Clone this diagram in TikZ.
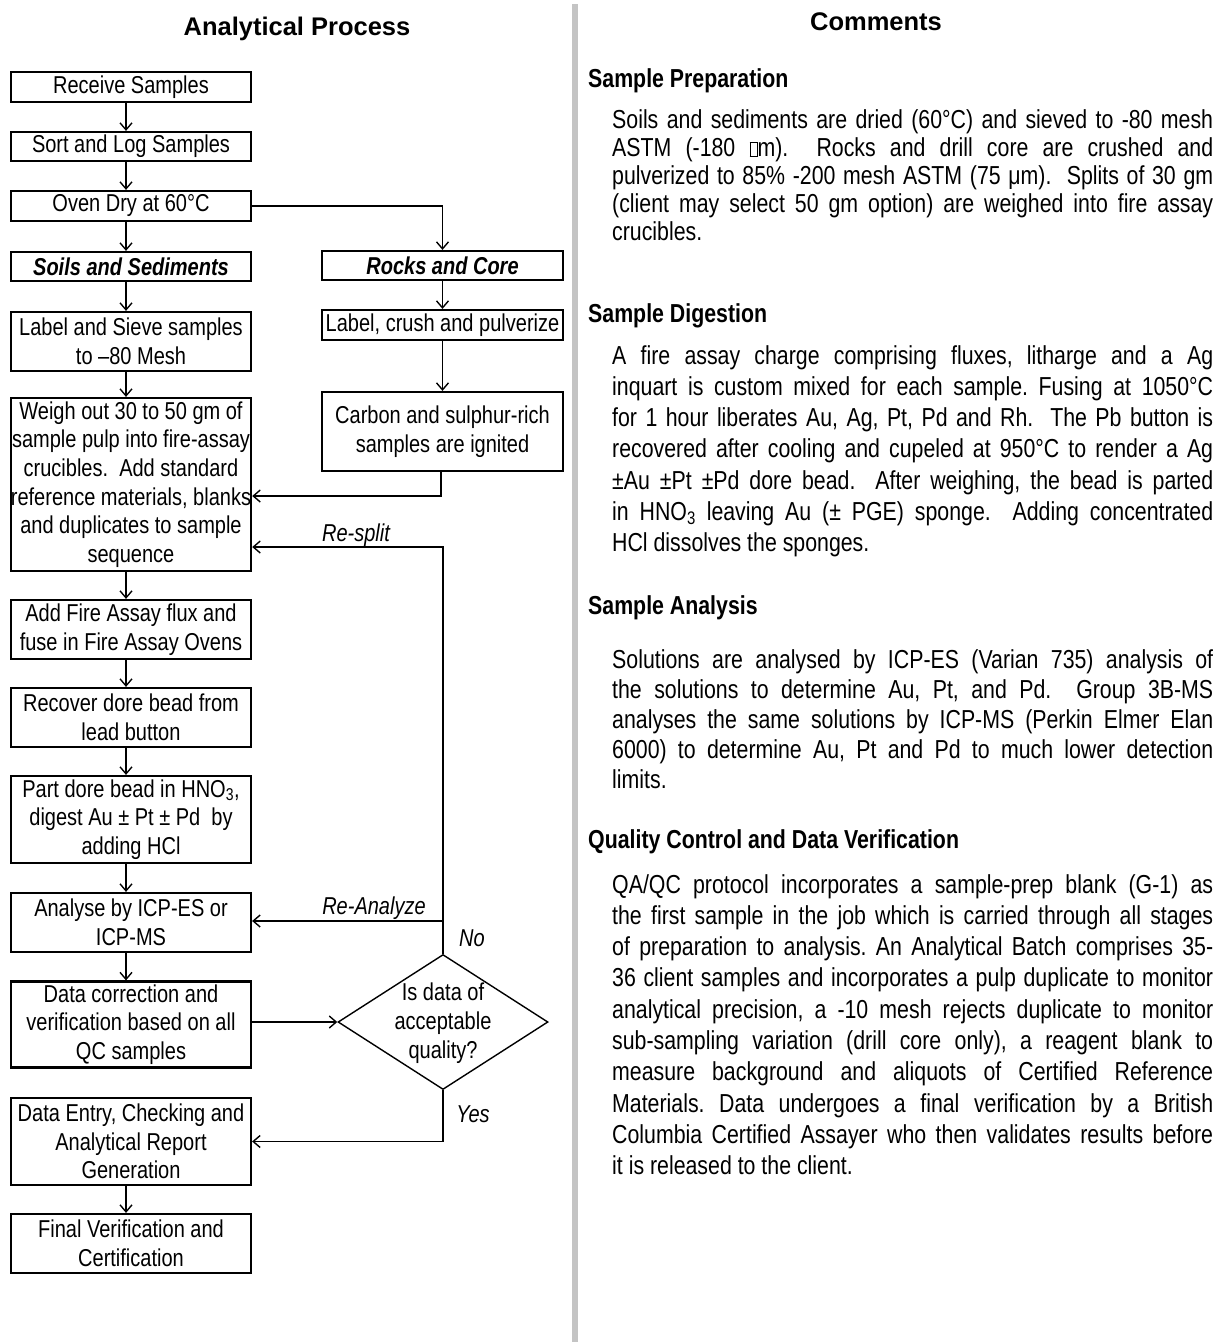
\documentclass[tikz,border=0pt]{standalone}
\usepackage{fontspec}
\setmainfont{Liberation Sans}
\newfontfamily\narrow[FakeStretch=0.82]{Liberation Sans}
\usetikzlibrary{arrows.meta,shapes.geometric,calc}
\definecolor{divgray}{RGB}{196,196,196}
\frenchspacing
\newcommand\fsz{\narrow\fontsize{24.4}{28.7}\selectfont}
\newcommand\psz[1]{\narrow\fontsize{26}{#1}\selectfont\frenchspacing}
\newcommand\jl[1]{\makebox[601pt][s]{#1}\\}
\newcommand\nogl{{\fboxsep=0pt\fboxrule=0.5pt\fbox{\rule{0pt}{14pt}\hspace{7pt}}}}
\begin{document}
\begin{tikzpicture}[x=1pt,y=-1pt,
  box/.style={draw, line width=2.2pt, rectangle, inner sep=0pt, align=center, font=\fsz},
  lbox/.style={box, minimum width=240pt},
  rbox/.style={box, minimum width=241pt},
  arr/.style={line width=1.4pt, -{Straight Barb[length=7pt,width=12pt]}},
  lab/.style={font=\fsz\itshape, inner sep=0pt},
  head/.style={font=\narrow\fontsize{26}{30}\selectfont\bfseries, inner sep=0pt, anchor=west},
  ttl/.style={font=\fontsize{25.5}{30}\selectfont\bfseries, inner sep=0pt},
  para/.style={inner sep=0pt, align=left, anchor=north west}]
\useasboundingbox (0,0) rectangle (1222,1342);
\fill[white] (0,0) rectangle (1222,1342);
\fill[divgray] (572,4) rectangle (578,1342);

% titles
\node[ttl] (t1) at (297,29) {Analytical Process};
\node[ttl] (t2) at (876,22) {Comments};

% left column
\node[lbox, minimum height=30pt] (recv) at (131,87) {Receive Samples};
\node[lbox, minimum height=29pt] (sort) at (131,146.5) {Sort and Log Samples};
\node[lbox, minimum height=30pt] (oven) at (131,206) {Oven Dry at 60°C};
\node[lbox, minimum height=29pt, font=\fsz\bfseries\itshape] (soils) at (131,266.5) {Soils and Sediments};
\node[lbox, minimum height=59pt] (label) at (131,341.5) {Label and Sieve samples\\to –80 Mesh};
\node[lbox, minimum height=173pt] (weigh) at (131,484.5) {Weigh out 30 to 50 gm of\\sample pulp into fire-assay\\crucibles.~~Add standard\\reference materials, blanks\\and duplicates to sample\\sequence};
\node[lbox, minimum height=59pt] (fire) at (131,629.5) {Add Fire Assay flux and\\fuse in Fire Assay Ovens};
\node[lbox, minimum height=59pt] (recover) at (131,717.5) {Recover dore bead from\\lead button};
\node[lbox, minimum height=87pt] (part) at (131,819.5) {Part dore bead in HNO\textsubscript{3},\\digest Au ± Pt ± Pd~ by\\adding HCl};
\node[lbox, minimum height=59pt] (analyse) at (131,922.5) {Analyse by ICP-ES or\\ICP-MS};
\node[lbox, minimum height=86pt] (corr) at (131,1024.5) {Data correction and\\verification based on all\\QC samples};
\node[lbox, minimum height=87pt] (entry) at (131,1141.5) {Data Entry, Checking and\\Analytical Report\\Generation};
\node[lbox, minimum height=59pt] (final) at (131,1243.5) {Final Verification and\\Certification};

% right column
\node[rbox, minimum height=29pt, font=\fsz\bfseries\itshape] (rocks) at (442.5,265.5) {Rocks and Core};
\node[rbox, minimum height=30pt] (crush) at (442.5,325) {Label, crush and pulverize};
\node[rbox, minimum height=79pt] (carbon) at (442.5,431.5) {Carbon and sulphur-rich\\samples are ignited};

% decision
\node[draw, diamond, line width=1.4pt, minimum width=210pt, minimum height=135pt, inner sep=0pt] (dia) at (443,1022) {};
\node[font=\fsz, align=center, inner sep=0pt] (diatext) at (443,1023) {Is data of\\acceptable\\quality?};

% coordinates for bends
\coordinate (cbend) at (441,496);
\coordinate (rsbend) at (443,547);
\coordinate (rabend) at (443,921);

% main flow arrows
\foreach \a/\b in {recv/sort, sort/oven, oven/soils, soils/label, label/weigh, weigh/fire, fire/recover, recover/part, part/analyse, analyse/corr, entry/final}
  \draw[arr] ([xshift=-5pt]\a.south) -- ([xshift=-5pt]\b.north);

\draw[arr] (oven.east) -| (rocks.north);
\draw[arr] (rocks.south) -- (crush.north);
\draw[arr] (crush.south) -- (carbon.north);
\draw[arr] ([xshift=-1.5pt]carbon.south) -- (cbend) -- (cbend -| weigh.east);
\draw[arr] (dia.north) -- (rsbend) -- (rsbend -| weigh.east);
\draw[arr] (rabend) -- (rabend -| analyse.east);
\draw[arr] (dia.west -| corr.east) -- (dia.west);
\draw[arr] (dia.south) |- (entry.east);

% labels
\node[lab] (lrs) at (356,535) {Re-split};
\node[lab] (lra) at (374,908) {Re-Analyze};
\node[lab] (lno) at (472,938) {No};
\node[lab] (lyes) at (473,1114) {Yes};

% comments column
\node[head] (h1) at (588,81) {Sample Preparation};
\node[para, font=\psz{28}] (p1) at (612,109) {%
\jl{Soils and sediments are dried (60°C) and sieved to -80 mesh}%
\jl{ASTM (-180 \nogl m).~ Rocks and drill core are crushed and}%
\jl{pulverized to 85\% -200 mesh ASTM (75 μm).~ Splits of 30 gm}%
\jl{(client may select 50 gm option) are weighed into fire assay}%
crucibles.};

\node[head] (h2) at (588,316) {Sample Digestion};
\node[para, font=\psz{31.3}] (p2) at (612,345) {%
\jl{A fire assay charge comprising fluxes, litharge and a Ag}%
\jl{inquart is custom mixed for each sample. Fusing at 1050°C}%
\jl{for 1 hour liberates Au, Ag, Pt, Pd and Rh.~ The Pb button is}%
\jl{recovered after cooling and cupeled at 950°C to render a Ag}%
\jl{±Au ±Pt ±Pd dore bead.~ After weighing, the bead is parted}%
\jl{in HNO\textsubscript{3} leaving Au (± PGE) sponge.~ Adding concentrated}%
HCl dissolves the sponges.};

\node[head] (h3) at (588,608) {Sample Analysis};
\node[para, font=\psz{30}] (p3) at (612,649) {%
\jl{Solutions are analysed by ICP-ES (Varian 735) analysis of}%
\jl{the solutions to determine Au, Pt, and Pd.~ Group 3B-MS}%
\jl{analyses the same solutions by ICP-MS (Perkin Elmer Elan}%
\jl{6000) to determine Au, Pt and Pd to much lower detection}%
limits.};

\node[head] (h4) at (588,842) {Quality Control and Data Verification};
\node[para, font=\psz{31.3}] (p4) at (612,874) {%
\jl{QA/QC protocol incorporates a sample-prep blank (G-1) as}%
\jl{the first sample in the job which is carried through all stages}%
\jl{of preparation to analysis. An Analytical Batch comprises 35-}%
\jl{36 client samples and incorporates a pulp duplicate to monitor}%
\jl{analytical precision, a -10 mesh rejects duplicate to monitor}%
\jl{sub-sampling variation (drill core only), a reagent blank to}%
\jl{measure background and aliquots of Certified Reference}%
\jl{Materials. Data undergoes a final verification by a British}%
\jl{Columbia Certified Assayer who then validates results before}%
it is released to the client.};
\end{tikzpicture}
\end{document}
